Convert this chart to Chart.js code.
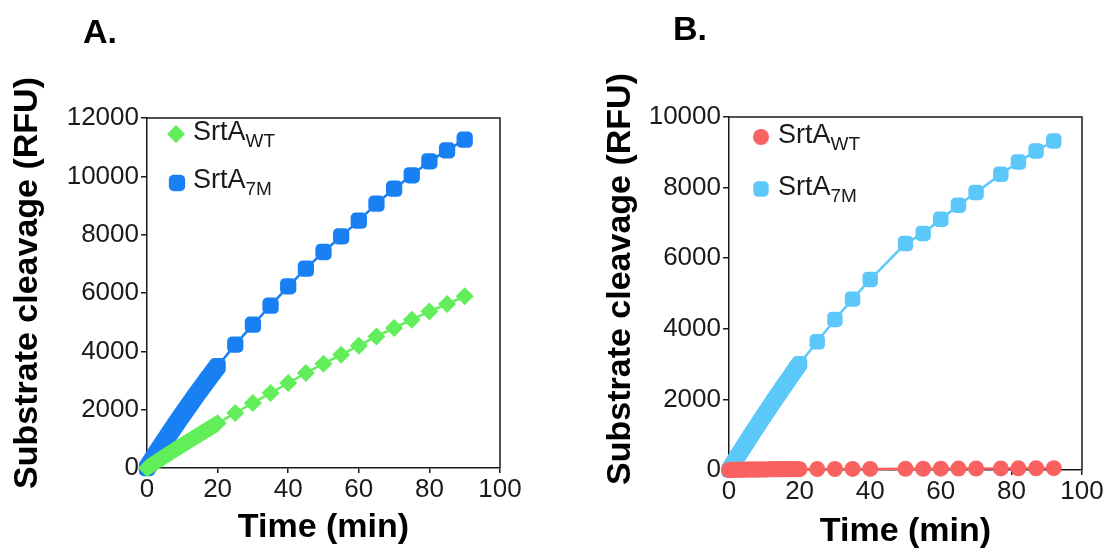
<!DOCTYPE html>
<html>
<head>
<meta charset="utf-8">
<script src="https://cdn.jsdelivr.net/npm/chart.js@4.4.1/dist/chart.umd.min.js"></script>
<style>
  html, body { margin: 0; padding: 0; background: #fff; }
  .panel { position: absolute; top: 0; width: 553px; height: 552px; }
  #panel-a { left: 0; }
  #panel-b { left: 553px; }
</style>
</head>
<body>
<div class="panel" id="panel-a"><canvas id="chart-a"></canvas></div>
<div class="panel" id="panel-b"><canvas id="chart-b"></canvas></div>
<script>
// --- data (time in min, signal in RFU) ---
const timeA = [0, 0.5, 1, 1.5, 2, 2.5, 3, 3.5, 4, 4.5, 5, 5.5, 6, 6.5, 7, 7.5, 8, 8.5, 9, 9.5,
  10, 10.5, 11, 11.5, 12, 12.5, 13, 13.5, 14, 14.5, 15, 15.5, 16, 16.5, 17, 17.5, 18, 18.5, 19, 19.5, 20,
  25, 30, 35, 40, 45, 50, 55, 60, 65, 70, 75, 80, 85, 90];
const wtA = [0, 42, 83, 124, 164, 204, 244, 284, 323, 362, 401, 440, 479, 518, 557, 596, 634, 672, 710, 748,
  786, 824, 862, 900, 938, 976, 1013, 1050, 1087, 1124, 1161, 1198, 1235, 1272, 1309, 1346, 1383, 1420, 1457, 1494, 1531,
  1886, 2229, 2571, 2914, 3257, 3576, 3886, 4193, 4512, 4800, 5085, 5370, 5623, 5885];
const m7A = [0, 95, 190, 284, 378, 471, 564, 657, 749, 841, 932, 1023, 1114, 1204, 1294, 1383, 1472, 1561, 1649, 1737,
  1824, 1911, 1998, 2084, 2170, 2255, 2340, 2425, 2509, 2593, 2676, 2759, 2842, 2924, 3006, 3087, 3168, 3249, 3329, 3409, 3488,
  4229, 4914, 5566, 6229, 6834, 7406, 7943, 8480, 9062, 9577, 10034, 10514, 10891, 11257];

const timeB = [0, 0.5, 1, 1.5, 2, 2.5, 3, 3.5, 4, 4.5, 5, 5.5, 6, 6.5, 7, 7.5, 8, 8.5, 9, 9.5,
  10, 10.5, 11, 11.5, 12, 12.5, 13, 13.5, 14, 14.5, 15, 15.5, 16, 16.5, 17, 17.5, 18, 18.5, 19, 19.5, 20,
  25, 30, 35, 40, 50, 55, 60, 65, 70, 77, 82, 87, 92];
const wtB = [0, 2, 4, 5, 6, 7, 8, 9, 10, 10, 11, 12, 12, 13, 13, 14, 14, 15, 15, 16,
  16, 17, 17, 18, 18, 18, 19, 19, 20, 20, 20, 21, 21, 21, 22, 22, 22, 23, 23, 23, 24,
  26, 28, 30, 31, 33, 36, 38, 40, 42, 45, 47, 49, 51];
const m7B = [0, 80, 160, 240, 319, 398, 477, 556, 634, 712, 790, 868, 945, 1022, 1099, 1176, 1252, 1328, 1404, 1480,
  1555, 1630, 1705, 1780, 1854, 1928, 2002, 2076, 2149, 2222, 2295, 2368, 2440, 2512, 2584, 2656, 2727, 2798, 2869, 2940, 3010,
  3632, 4265, 4840, 5397, 6416, 6700, 7105, 7500, 7860, 8378, 8727, 9038, 9320];

const xTicks = [0, 20, 40, 60, 80, 100];
const yTicksA = [0, 2000, 4000, 6000, 8000, 10000, 12000];
const yTicksB = [0, 2000, 4000, 6000, 8000, 10000];

const FONT = "'Liberation Sans', Arial, Helvetica, sans-serif";
const INK = '#1a1a1a';
const W = 553, H = 552;

const toPoints = (xs, ys) => xs.map((x, i) => ({ x, y: ys[i] }));

function series(label, sub, xs, ys, color, style, radius) {
  return {
    label, sub,
    data: toPoints(xs, ys),
    borderColor: color,
    backgroundColor: color,
    pointBackgroundColor: color,
    pointBorderWidth: 0,
    pointStyle: style,
    pointRadius: radius,
    borderWidth: 2.5,
    showLine: true,
    tension: 0,
    clip: false,
  };
}

// frame, panel letter, rotated y title and the subscript legend
function decor(spec) {
  return {
    id: 'decor',
    beforeDatasetsDraw(chart) {
      const { ctx, chartArea: a } = chart;
      ctx.save();
      ctx.strokeStyle = INK;
      ctx.lineWidth = 1.5;
      ctx.beginPath();
      ctx.moveTo(a.left, a.top);
      ctx.lineTo(a.right, a.top);
      ctx.lineTo(a.right, a.bottom);
      ctx.stroke();
      ctx.restore();
    },
    afterDraw(chart) {
      const ctx = chart.ctx;
      ctx.save();
      ctx.fillStyle = '#000';
      ctx.font = `bold 34px ${FONT}`;
      ctx.textAlign = 'left';
      ctx.textBaseline = 'alphabetic';
      ctx.fillText(spec.letter, spec.letterX, spec.letterY);

      ctx.save();
      ctx.translate(spec.yTitleX, spec.yTitleY);
      ctx.rotate(-Math.PI / 2);
      ctx.textAlign = 'center';
      ctx.textBaseline = 'middle';
      ctx.fillText('Substrate cleavage (RFU)', 0, 0);
      ctx.restore();

      chart.data.datasets.forEach((ds, i) => {
        const pos = spec.legend[i];
        ctx.fillStyle = ds.backgroundColor;
        Chart.helpers.drawPoint(ctx, { pointStyle: ds.pointStyle, radius: ds.pointRadius, rotation: 0, borderWidth: 0 }, pos.mx, pos.my);
        ctx.fillStyle = INK;
        ctx.textAlign = 'left';
        ctx.textBaseline = 'alphabetic';
        ctx.font = `27px ${FONT}`;
        ctx.fillText(ds.label, pos.tx, pos.ty);
        const w = ctx.measureText(ds.label).width;
        ctx.font = `19px ${FONT}`;
        ctx.fillText(ds.sub, pos.tx + w, pos.ty + 7);
      });
      ctx.restore();
    },
  };
}

function buildPanel(canvasId, spec) {
  const a = spec.area;
  return new Chart(document.getElementById(canvasId), {
    type: 'scatter',
    data: { datasets: spec.datasets },
    options: {
      responsive: true,
      maintainAspectRatio: false,
      animation: false,
      layout: { padding: { top: a.top, right: W - a.right, left: 0, bottom: 0 } },
      plugins: { legend: { display: false }, tooltip: { enabled: false } },
      scales: {
        x: {
          type: 'linear',
          min: 0, max: 100,
          afterFit: (s) => { s.height = H - a.bottom; },
          afterBuildTicks: (s) => { s.ticks = xTicks.map((v) => ({ value: v })); },
          grid: { display: true, drawOnChartArea: false, drawTicks: true, tickLength: 5, color: INK, lineWidth: 1.5 },
          border: { display: true, color: INK, width: 1.5 },
          ticks: { color: INK, padding: 1, font: { family: FONT, size: 26 }, callback: (v) => String(v) },
          title: { display: true, text: 'Time (min)', color: '#000', padding: { top: 0, bottom: spec.xTitlePad }, font: { family: FONT, size: 34, weight: 'bold' } },
        },
        y: {
          type: 'linear',
          min: 0, max: spec.yMax,
          afterFit: (s) => { s.width = a.left; },
          afterBuildTicks: (s) => { s.ticks = spec.yTicks.map((v) => ({ value: v })); },
          grid: { display: true, drawOnChartArea: false, drawTicks: true, tickLength: 6, color: INK, lineWidth: 1.5 },
          border: { display: true, color: INK, width: 1.5 },
          ticks: { color: INK, padding: 2, font: { family: FONT, size: 26 }, callback: (v) => String(v) },
        },
      },
    },
    plugins: [decor(spec)],
  });
}

buildPanel('chart-a', {
  area: { left: 147, right: 500, top: 118, bottom: 468 },
  yMax: 12000,
  yTicks: yTicksA,
  xTitlePad: 4,
  letter: 'A.', letterX: 83, letterY: 43,
  yTitleX: 28, yTitleY: 283,
  datasets: [
    series('SrtA', 'WT', timeA, wtA, '#62ee5a', 'rectRot', 9),
    series('SrtA', '7M', timeA, m7A, '#1880f2', 'rectRounded', 9.5),
  ],
  legend: [
    { mx: 176, my: 134, tx: 193, ty: 140 },
    { mx: 177, my: 183, tx: 193, ty: 188 },
  ],
});

buildPanel('chart-b', {
  area: { left: 176, right: 529, top: 117, bottom: 470 },
  yMax: 10000,
  yTicks: yTicksB,
  xTitlePad: 0,
  letter: 'B.', letterX: 120, letterY: 40,
  yTitleX: 68, yTitleY: 279,
  datasets: [
    series('SrtA', 'WT', timeB, wtB, '#fa6262', 'circle', 8),
    series('SrtA', '7M', timeB, m7B, '#5cc8fa', 'rectRounded', 9),
  ],
  legend: [
    { mx: 208, my: 137, tx: 225, ty: 143 },
    { mx: 208, my: 189, tx: 225, ty: 195 },
  ],
});
</script>
</body>
</html>
